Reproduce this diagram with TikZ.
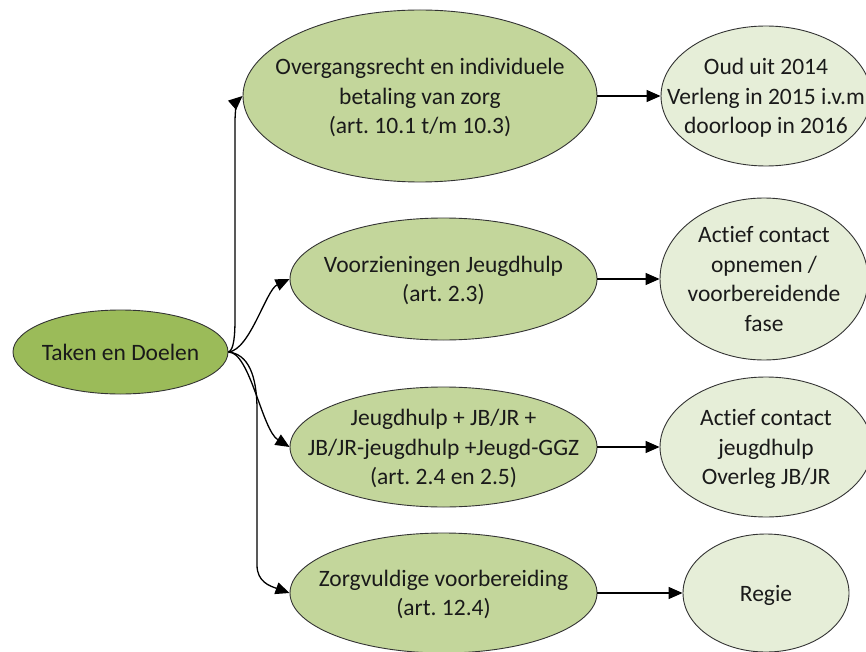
\documentclass[tikz,border=0pt]{standalone}
\usepackage{fontspec}
\setmainfont[Ligatures={NoCommon}]{Carlito}
\usetikzlibrary{shapes.geometric,arrows.meta}
\definecolor{rootfill}{HTML}{9BBB59}
\definecolor{midfill}{HTML}{C3D69B}
\definecolor{rightfill}{HTML}{E6EED8}
\definecolor{edgegray}{HTML}{333333}
\definecolor{txt}{HTML}{1A1A1A}
\frenchspacing
\newcommand{\lns}[1]{\makebox[0pt]{\raisebox{-0.36em}{\begin{tabular}{@{}c@{}}#1\end{tabular}}}}
\tikzset{
  ell/.style={ellipse, draw=edgegray, line width=0.9pt, inner sep=0pt,
    text height=0pt, text depth=0pt, text=txt,
    font=\fontsize{23.5}{29.5}\selectfont},
  rootell/.style={ell, fill=rootfill},
  midell/.style={ell, fill=midfill},
  rightell/.style={ell, fill=rightfill},
  conn/.style={draw=black, line width=1.3pt, -{Triangle[length=14pt,width=12pt]}}
}
\begin{document}
\begin{tikzpicture}[x=1pt,y=-1pt]
\useasboundingbox (0,0) rectangle (866,652);
% root
\node[rootell, minimum width=215pt, minimum height=84pt] (root) at (120.5,352) {\lns{Taken en Doelen}};
% middle column
\node[midell, minimum width=354pt, minimum height=172pt] (m1) at (420,96) {\lns{Overgangsrecht en individuele\\betaling van zorg\\(art. 10.1 t/m 10.3)}};
\node[midell, minimum width=307pt, minimum height=122pt] (m2) at (443.5,279) {\lns{Voorzieningen Jeugdhulp\\(art. 2.3)}};
\node[midell, minimum width=307pt, minimum height=120pt] (m3) at (443.5,447) {\lns{Jeugdhulp + JB/JR +\\JB/JR-jeugdhulp +Jeugd-GGZ\\(art. 2.4 en 2.5)}};
\node[midell, minimum width=307pt, minimum height=120pt] (m4) at (443.5,593) {\lns{Zorgvuldige voorbereiding\\(art. 12.4)}};
% right column
\node[rightell, minimum width=210pt, minimum height=140pt] (r1) at (766,96) {\lns{Oud uit 2014\\Verleng in 2015 i.v.m\\doorloop in 2016}};
\node[rightell, minimum width=208pt, minimum height=162pt] (r2) at (764,279) {\lns{Actief contact\\opnemen /\\voorbereidende\\fase}};
\node[rightell, minimum width=212pt, minimum height=140pt] (r3) at (766,447) {\lns{Actief contact\\jeugdhulp\\Overleg JB/JR}};
\node[rightell, minimum width=166pt, minimum height=118pt] (r4) at (766,593) {\lns{Regie}};
% connectors from root
\draw[conn] (root.east) .. controls (234,350) and (235,335) .. (235,318) -- (235,122) .. controls (235,108) and (238,100) .. (m1.west);
\draw[conn] (root.east) .. controls (250,350) and (266,290) .. (m2.west);
\draw[conn] (root.east) .. controls (250,352) and (262,430) .. (m3.west);
\draw[conn] (root.east) .. controls (248,354) and (257,375) .. (257,410) -- (257,565) .. controls (257,582) and (270,586) .. (m4.west);
% horizontal connectors
\draw[conn] (m1.east) -- (r1.west);
\draw[conn] (m2.east) -- (r2.west);
\draw[conn] (m3.east) -- (r3.west);
\draw[conn] (m4.east) -- (r4.west);
\end{tikzpicture}
\end{document}
